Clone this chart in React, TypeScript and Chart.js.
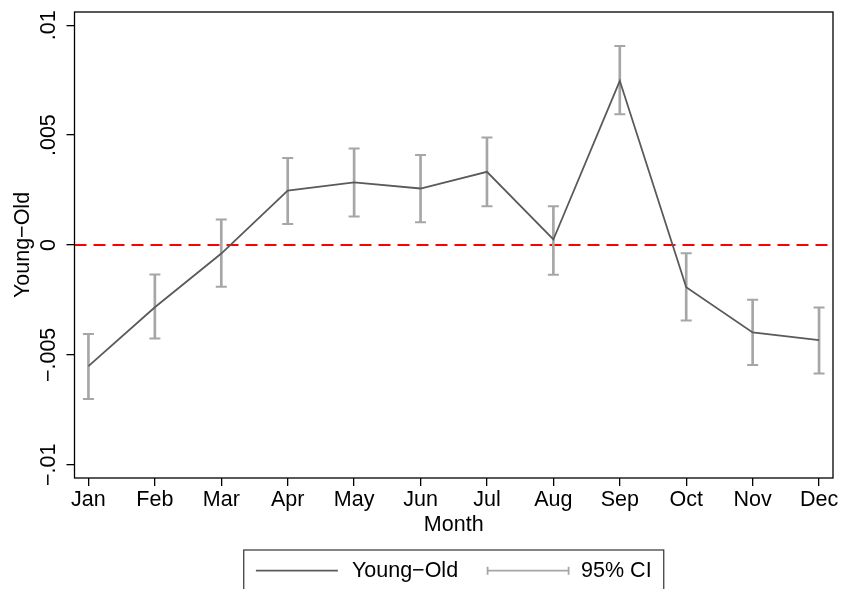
import React, { useEffect, useRef } from 'react';
import { Chart, registerables } from 'chart.js';

Chart.register(...registerables);

// ---- Data ----
const months = ['Jan', 'Feb', 'Mar', 'Apr', 'May', 'Jun', 'Jul', 'Aug', 'Sep', 'Oct', 'Nov', 'Dec'];
const estimates = [-0.00551, -0.00283, -0.00039, 0.00248, 0.00285, 0.00257, 0.00333, 0.00025, 0.00747, -0.00192, -0.00398, -0.00433];
const ciLow = [-0.00701, -0.00425, -0.0019, 0.00095, 0.0013, 0.00104, 0.00176, -0.00135, 0.00595, -0.00343, -0.00546, -0.00585];
const ciHigh = [-0.00405, -0.00134, 0.00116, 0.00396, 0.00439, 0.0041, 0.00489, 0.00176, 0.00905, -0.00037, -0.00249, -0.00284];
const yTicks = [-0.01, -0.005, 0, 0.005, 0.01];
const yTickLabels = ['\u2212.01', '\u2212.005', '0', '.005', '.01'];
const seriesLabel = 'Young\u2212Old';
const ciLabel = '95% CI';
const yTitle = 'Young\u2212Old';
const xTitle = 'Month';
const referenceValue = 0;

// ---- Axis ranges ----
const X_MIN = -0.21;
const X_MAX = 11.21;
const Y_MIN = -0.0106;
const Y_MAX = 0.0106;

const FONT = "'Liberation Sans', Arial, Helvetica, sans-serif";
const FS = 21.5;
const LINE_COLOR = '#5a5a5a';
const CI_COLOR = '#a6a6a6';

const stataPlugin = {
  id: 'stataExtras',
  afterDraw(chart: any) {
    const { ctx, chartArea } = chart;
    const yScale = chart.scales.y;
    ctx.save();
    // plot frame
    ctx.strokeStyle = '#000';
    ctx.lineWidth = 1.3;
    ctx.strokeRect(chartArea.left, chartArea.top, chartArea.right - chartArea.left, chartArea.bottom - chartArea.top);

    // rotated y tick labels
    ctx.fillStyle = '#000';
    ctx.font = `${FS}px ${FONT}`;
    ctx.textAlign = 'center';
    ctx.textBaseline = 'alphabetic';
    yTicks.forEach((v, i) => {
      const py = yScale.getPixelForValue(v);
      ctx.save();
      ctx.translate(chartArea.left - 19.5, py);
      ctx.rotate(-Math.PI / 2);
      ctx.fillText(yTickLabels[i], 0, 0);
      ctx.restore();
    });

    // legend
    const cx = (chartArea.left + chartArea.right) / 2;
    const boxW = 420;
    const boxL = cx - boxW / 2;
    const boxT = 550;
    ctx.strokeStyle = '#333';
    ctx.lineWidth = 1.2;
    ctx.strokeRect(boxL, boxT, boxW, 80);

    const sampleW = 82;
    const l1 = chart.data.datasets[0].label as string;
    const l2 = chart.data.datasets[1].label as string;
    const w1 = ctx.measureText(l1).width;
    const w2 = ctx.measureText(l2).width;
    const total = sampleW + 14 + w1 + 29 + sampleW + 12 + w2;
    let x = cx - total / 2;
    const ly = 570.7;
    ctx.strokeStyle = LINE_COLOR;
    ctx.lineWidth = 1.8;
    ctx.beginPath();
    ctx.moveTo(x, ly);
    ctx.lineTo(x + sampleW, ly);
    ctx.stroke();
    x += sampleW + 14;
    ctx.textAlign = 'left';
    ctx.fillText(l1, x, 577.3);
    x += w1 + 29;
    ctx.strokeStyle = CI_COLOR;
    ctx.lineWidth = 1.8;
    ctx.beginPath();
    ctx.moveTo(x, ly);
    ctx.lineTo(x + sampleW, ly);
    ctx.moveTo(x + 0.5, ly - 4);
    ctx.lineTo(x + 0.5, ly + 4);
    ctx.moveTo(x + sampleW - 0.5, ly - 4);
    ctx.lineTo(x + sampleW - 0.5, ly + 4);
    ctx.stroke();
    x += sampleW + 12;
    ctx.fillText(l2, x, 577.3);
    ctx.restore();
  },
};

export default function App() {
  const ref = useRef<HTMLCanvasElement>(null);
  useEffect(() => {
    if (!ref.current) return;
    Chart.defaults.font.family = FONT;
    const chart = new Chart(ref.current, {
      type: 'line',
      data: {
        datasets: [
          {
            type: 'line',
            label: seriesLabel,
            data: estimates.map((v, i) => ({ x: i, y: v })),
            borderColor: LINE_COLOR,
            borderWidth: 1.8,
            pointRadius: 0,
            tension: 0,
            order: 0,
          },
          {
            type: 'bar',
            label: ciLabel,
            data: months.map((_, i) => ({ x: i, y: [ciLow[i], ciHigh[i]] })),
            backgroundColor: CI_COLOR,
            borderWidth: 0,
            barThickness: 2,
            order: 1,
          } as any,
          {
            type: 'line',
            label: 'ciLowCap',
            data: ciLow.map((v, i) => ({ x: i, y: v })),
            showLine: false,
            pointStyle: 'line',
            pointRadius: 5.5,
            pointBorderColor: CI_COLOR,
            pointBorderWidth: 2,
            borderColor: CI_COLOR,
            order: 1,
          },
          {
            type: 'line',
            label: 'ciHighCap',
            data: ciHigh.map((v, i) => ({ x: i, y: v })),
            showLine: false,
            pointStyle: 'line',
            pointRadius: 5.5,
            pointBorderColor: CI_COLOR,
            pointBorderWidth: 2,
            borderColor: CI_COLOR,
            order: 1,
          },
          {
            type: 'line',
            label: 'reference',
            data: [
              { x: X_MIN, y: referenceValue },
              { x: X_MAX, y: referenceValue },
            ],
            borderColor: '#ff0000',
            borderWidth: 2,
            borderDash: [12, 7],
            pointRadius: 0,
            order: 2,
          },
        ],
      },
      options: {
        animation: false,
        responsive: false,
        devicePixelRatio: 1,
        events: [],
        layout: { padding: { left: 0, top: 12, right: 9, bottom: 51 } },
        plugins: {
          legend: { display: false },
          tooltip: { enabled: false },
          title: { display: false },
        },
        scales: {
          x: {
            type: 'linear',
            min: X_MIN,
            max: X_MAX,
            offset: false,
            afterBuildTicks: (scale: any) => {
              scale.ticks = months.map((_, i) => ({ value: i }));
            },
            afterFit: (scale: any) => {
              scale.height = 60;
            },
            ticks: {
              autoSkip: false,
              maxRotation: 0,
              minRotation: 0,
              padding: 1.5,
              color: '#000',
              font: { size: FS, family: FONT },
              callback: (v: any) => months[Math.round(Number(v))] ?? '',
            },
            grid: {
              offset: false,
              drawOnChartArea: false,
              drawTicks: true,
              tickLength: 8,
              color: '#000',
              lineWidth: 1.3,
            },
            border: { display: false },
            title: {
              display: true,
              text: xTitle,
              color: '#000',
              font: { size: FS, family: FONT },
              padding: { top: 0, bottom: 0 },
            },
          },
          y: {
            type: 'linear',
            min: Y_MIN,
            max: Y_MAX,
            afterBuildTicks: (scale: any) => {
              scale.ticks = yTicks.map((v) => ({ value: v }));
            },
            afterFit: (scale: any) => {
              scale.width = 74.5;
            },
            ticks: { display: false },
            grid: {
              drawOnChartArea: false,
              drawTicks: true,
              tickLength: 8,
              color: '#000',
              lineWidth: 1.3,
            },
            border: { display: false },
            title: {
              display: true,
              text: yTitle,
              color: '#000',
              font: { size: FS, family: FONT },
              padding: { top: 10.6, bottom: 0 },
            },
          },
        },
      },
      plugins: [stataPlugin],
    } as any);
    return () => chart.destroy();
  }, []);

  return (
    <div style={{ position: 'fixed', left: 0, top: 0, width: 842, height: 589, background: '#fff' }}>
      <canvas ref={ref} width={842} height={589} style={{ width: 842, height: 589, display: 'block' }} />
    </div>
  );
}
